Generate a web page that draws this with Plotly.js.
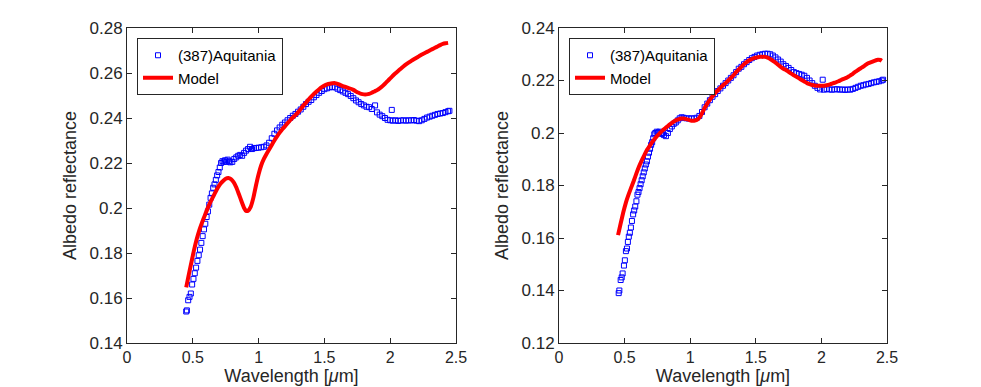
<!DOCTYPE html>
<html>
<head>
<meta charset="utf-8">
<script src="https://cdn.plot.ly/plotly-3.0.1.min.js"></script>
<style>
    html, body { margin: 0; padding: 0; background: #fff; }
    #graph { width: 981px; height: 387px; }
</style>
</head>
<body>
<div id="graph"></div>
<script>
// spectrum of (387) Aquitania, fitted with two models

const leftDataX = [0.450, 0.455, 0.465, 0.475, 0.485, 0.495, 0.505, 0.515, 0.525, 0.535, 0.545, 0.555, 0.565, 0.575, 0.585, 0.595, 0.605, 0.615, 0.625, 0.635, 0.645, 0.655, 0.665, 0.675, 0.685, 0.695, 0.705, 0.715, 0.725, 0.735, 0.745, 0.755, 0.765, 0.775, 0.785, 0.800, 0.815, 0.830, 0.845, 0.860, 0.875, 0.890, 0.905, 0.920, 0.935, 0.950, 0.965, 0.980, 1.00, 1.02, 1.04, 1.06, 1.08, 1.10, 1.12, 1.14, 1.16, 1.18, 1.20, 1.22, 1.24, 1.26, 1.28, 1.30, 1.32, 1.34, 1.36, 1.38, 1.40, 1.42, 1.44, 1.46, 1.48, 1.50, 1.52, 1.54, 1.56, 1.58, 1.60, 1.62, 1.64, 1.66, 1.68, 1.70, 1.72, 1.74, 1.76, 1.78, 1.80, 1.82, 1.84, 1.86, 1.885, 1.90, 1.92, 1.94, 1.96, 1.98, 2.00, 2.012, 2.02, 2.04, 2.06, 2.08, 2.10, 2.12, 2.14, 2.16, 2.18, 2.20, 2.22, 2.24, 2.26, 2.28, 2.30, 2.32, 2.34, 2.36, 2.38, 2.40, 2.42, 2.44, 2.45];
const leftDataY = [0.1540, 0.1545, 0.1590, 0.1605, 0.1620, 0.1660, 0.1685, 0.1710, 0.1735, 0.1765, 0.1790, 0.1815, 0.1845, 0.1875, 0.1905, 0.1930, 0.1960, 0.1985, 0.2015, 0.2045, 0.2065, 0.2090, 0.2105, 0.2125, 0.2145, 0.2160, 0.2180, 0.2200, 0.2208, 0.2206, 0.2212, 0.2205, 0.2215, 0.2208, 0.2203, 0.2205, 0.2218, 0.2225, 0.2232, 0.2236, 0.2232, 0.2245, 0.2255, 0.2262, 0.2272, 0.2262, 0.2266, 0.2267, 0.2268, 0.2270, 0.2272, 0.2278, 0.2290, 0.2310, 0.2330, 0.2345, 0.2358, 0.2370, 0.2380, 0.2390, 0.2400, 0.2410, 0.2418, 0.2428, 0.2438, 0.2450, 0.2462, 0.2472, 0.2480, 0.2492, 0.2502, 0.2512, 0.2520, 0.2528, 0.2532, 0.2536, 0.2538, 0.2536, 0.2530, 0.2524, 0.2518, 0.2512, 0.2506, 0.2498, 0.2488, 0.2478, 0.2470, 0.2462, 0.2456, 0.2450, 0.2448, 0.2440, 0.2456, 0.2425, 0.2415, 0.2408, 0.2400, 0.2392, 0.2390, 0.2436, 0.2388, 0.2390, 0.2387, 0.2389, 0.2390, 0.2388, 0.2390, 0.2389, 0.2391, 0.2388, 0.2386, 0.2390, 0.2396, 0.2402, 0.2406, 0.2410, 0.2414, 0.2418, 0.2420, 0.2422, 0.2426, 0.2430, 0.2432];

const leftModelX = [0.45, 0.47, 0.49, 0.51, 0.53, 0.55, 0.57, 0.59, 0.61, 0.63, 0.65, 0.67, 0.69, 0.71, 0.73, 0.75, 0.77, 0.79, 0.81, 0.83, 0.85, 0.87, 0.89, 0.905, 0.92, 0.94, 0.96, 0.98, 1.00, 1.02, 1.04, 1.06, 1.08, 1.10, 1.12, 1.14, 1.16, 1.18, 1.20, 1.22, 1.24, 1.26, 1.28, 1.30, 1.32, 1.34, 1.36, 1.38, 1.40, 1.42, 1.44, 1.46, 1.48, 1.50, 1.52, 1.54, 1.56, 1.58, 1.60, 1.62, 1.64, 1.66, 1.68, 1.70, 1.72, 1.74, 1.76, 1.78, 1.80, 1.82, 1.84, 1.86, 1.88, 1.90, 1.92, 1.94, 1.96, 1.98, 2.00, 2.02, 2.04, 2.06, 2.08, 2.10, 2.12, 2.14, 2.16, 2.18, 2.20, 2.22, 2.24, 2.26, 2.28, 2.30, 2.32, 2.34, 2.36, 2.38, 2.40, 2.42, 2.44];
const leftModelY = [0.1647, 0.1705, 0.1760, 0.1815, 0.1862, 0.1902, 0.1935, 0.1965, 0.1995, 0.2022, 0.2045, 0.2068, 0.2090, 0.2108, 0.2120, 0.2130, 0.2133, 0.2128, 0.2115, 0.2092, 0.2062, 0.2030, 0.2000, 0.1987, 0.1988, 0.2005, 0.2045, 0.2100, 0.2150, 0.2190, 0.2218, 0.2240, 0.2260, 0.2280, 0.2300, 0.2318, 0.2335, 0.2350, 0.2363, 0.2377, 0.2390, 0.2402, 0.2413, 0.2425, 0.2440, 0.2455, 0.2468, 0.2482, 0.2495, 0.2507, 0.2518, 0.2528, 0.2537, 0.2544, 0.2549, 0.2552, 0.2554, 0.2555, 0.2552, 0.2547, 0.2542, 0.2538, 0.2534, 0.2530, 0.2525, 0.2518, 0.2512, 0.2507, 0.2505, 0.2505, 0.2507, 0.2512, 0.2518, 0.2524, 0.2532, 0.2541, 0.2552, 0.2564, 0.2576, 0.2588, 0.2599, 0.2609, 0.2619, 0.2629, 0.2638, 0.2646, 0.2654, 0.2661, 0.2668, 0.2675, 0.2682, 0.2688, 0.2694, 0.2700, 0.2706, 0.2712, 0.2718, 0.2724, 0.2729, 0.2732, 0.2734];

const rightDataX = [0.455, 0.460, 0.470, 0.478, 0.485, 0.495, 0.502, 0.510, 0.518, 0.525, 0.532, 0.540, 0.548, 0.556, 0.565, 0.573, 0.581, 0.590, 0.598, 0.606, 0.614, 0.622, 0.630, 0.638, 0.646, 0.654, 0.662, 0.670, 0.678, 0.686, 0.694, 0.702, 0.710, 0.718, 0.726, 0.734, 0.745, 0.755, 0.765, 0.775, 0.785, 0.800, 0.815, 0.830, 0.845, 0.860, 0.875, 0.890, 0.905, 0.920, 0.935, 0.950, 0.97, 0.99, 1.01, 1.03, 1.05, 1.07, 1.09, 1.11, 1.13, 1.15, 1.17, 1.19, 1.21, 1.23, 1.25, 1.27, 1.29, 1.31, 1.33, 1.35, 1.37, 1.39, 1.41, 1.43, 1.45, 1.47, 1.49, 1.51, 1.53, 1.55, 1.57, 1.59, 1.61, 1.63, 1.65, 1.67, 1.69, 1.71, 1.73, 1.75, 1.77, 1.79, 1.81, 1.83, 1.85, 1.87, 1.89, 1.91, 1.93, 1.95, 1.97, 1.99, 2.01, 2.02, 2.04, 2.06, 2.08, 2.10, 2.12, 2.14, 2.16, 2.18, 2.20, 2.22, 2.24, 2.26, 2.28, 2.30, 2.32, 2.34, 2.36, 2.38, 2.40, 2.42, 2.44, 2.46, 2.47];
const rightDataY = [0.1390, 0.1400, 0.1440, 0.1450, 0.1465, 0.1495, 0.1515, 0.1550, 0.1560, 0.1585, 0.1605, 0.1620, 0.1640, 0.1665, 0.1690, 0.1705, 0.1720, 0.1740, 0.1765, 0.1775, 0.1790, 0.1805, 0.1820, 0.1835, 0.1850, 0.1865, 0.1880, 0.1892, 0.1910, 0.1925, 0.1940, 0.1955, 0.1965, 0.1980, 0.1995, 0.2000, 0.2005, 0.2002, 0.2005, 0.2000, 0.1996, 0.1992, 0.1988, 0.2000, 0.2015, 0.2025, 0.2035, 0.2040, 0.2048, 0.2056, 0.2060, 0.2058, 0.2056, 0.2055, 0.2056, 0.2055, 0.2058, 0.2065, 0.2080, 0.2098, 0.2112, 0.2125, 0.2138, 0.2148, 0.2160, 0.2170, 0.2180, 0.2190, 0.2200, 0.2210, 0.2220, 0.2232, 0.2245, 0.2252, 0.2262, 0.2270, 0.2278, 0.2285, 0.2290, 0.2295, 0.2298, 0.2300, 0.2302, 0.2302, 0.2300, 0.2295, 0.2288, 0.2280, 0.2272, 0.2262, 0.2255, 0.2248, 0.2240, 0.2232, 0.2228, 0.2225, 0.2222, 0.2218, 0.2210, 0.2200, 0.2190, 0.2180, 0.2172, 0.2166, 0.2203, 0.2165, 0.2168, 0.2166, 0.2165, 0.2166, 0.2167, 0.2165, 0.2166, 0.2164, 0.2166, 0.2165, 0.2168, 0.2172, 0.2176, 0.2180, 0.2182, 0.2185, 0.2187, 0.2190, 0.2193, 0.2195, 0.2197, 0.2200, 0.2203];

const rightModelX = [0.45, 0.47, 0.49, 0.51, 0.53, 0.55, 0.57, 0.59, 0.61, 0.63, 0.65, 0.67, 0.69, 0.71, 0.73, 0.75, 0.77, 0.79, 0.81, 0.83, 0.85, 0.87, 0.89, 0.91, 0.93, 0.95, 0.97, 0.99, 1.01, 1.03, 1.05, 1.07, 1.09, 1.11, 1.13, 1.15, 1.17, 1.19, 1.21, 1.23, 1.25, 1.27, 1.29, 1.31, 1.33, 1.35, 1.37, 1.39, 1.41, 1.43, 1.45, 1.47, 1.49, 1.51, 1.53, 1.55, 1.57, 1.59, 1.61, 1.63, 1.65, 1.67, 1.69, 1.71, 1.73, 1.75, 1.77, 1.79, 1.81, 1.83, 1.85, 1.87, 1.89, 1.91, 1.93, 1.95, 1.97, 1.99, 2.01, 2.03, 2.05, 2.07, 2.09, 2.11, 2.13, 2.15, 2.17, 2.19, 2.21, 2.23, 2.25, 2.27, 2.29, 2.31, 2.33, 2.35, 2.37, 2.39, 2.41, 2.43, 2.45, 2.46];
const rightModelY = [0.1611, 0.1655, 0.1698, 0.1735, 0.1765, 0.1792, 0.1818, 0.1846, 0.1872, 0.1895, 0.1915, 0.1935, 0.1950, 0.1965, 0.1978, 0.1990, 0.2000, 0.2010, 0.2018, 0.2027, 0.2035, 0.2042, 0.2048, 0.2052, 0.2055, 0.2055, 0.2053, 0.2050, 0.2047, 0.2047, 0.2050, 0.2058, 0.2075, 0.2095, 0.2112, 0.2127, 0.2140, 0.2152, 0.2162, 0.2172, 0.2182, 0.2190, 0.2200, 0.2210, 0.2220, 0.2232, 0.2242, 0.2252, 0.2262, 0.2270, 0.2277, 0.2282, 0.2286, 0.2288, 0.2290, 0.2290, 0.2290, 0.2287, 0.2282, 0.2275, 0.2268, 0.2260, 0.2252, 0.2245, 0.2240, 0.2233, 0.2226, 0.2220, 0.2214, 0.2208, 0.2202, 0.2196, 0.2190, 0.2186, 0.2183, 0.2181, 0.2180, 0.2180, 0.2180, 0.2181, 0.2183, 0.2186, 0.2190, 0.2193, 0.2197, 0.2202, 0.2206, 0.2210, 0.2216, 0.2222, 0.2230, 0.2237, 0.2244, 0.2250, 0.2257, 0.2264, 0.2268, 0.2272, 0.2276, 0.2279, 0.2278, 0.2275];

const xTicks = [0, 0.5, 1, 1.5, 2, 2.5];
const xTickText = ['0', '0.5', '1', '1.5', '2', '2.5'];
const leftYTicks = [0.14, 0.16, 0.18, 0.2, 0.22, 0.24, 0.26, 0.28];
const leftYTickText = ['0.14', '0.16', '0.18', '0.2', '0.22', '0.24', '0.26', '0.28'];
const rightYTicks = [0.12, 0.14, 0.16, 0.18, 0.2, 0.22, 0.24];
const rightYTickText = ['0.12', '0.14', '0.16', '0.18', '0.2', '0.22', '0.24'];

const dataName = '(387)Aquitania';
const modelName = 'Model';

const axisColor = '#262626';
const fontFamily = '"Liberation Sans", Arial, Helvetica, sans-serif';

function dataTrace(x, y, xa, ya, legend) {
    return {
        x: x, y: y, xaxis: xa, yaxis: ya, legend: legend,
        name: dataName,
        type: 'scatter',
        mode: 'markers',
        marker: {
            symbol: 'square-open',
            size: 5,
            color: '#0000ff',
            line: { width: 1, color: '#0000ff' }
        }
    };
}

function modelTrace(x, y, xa, ya, legend) {
    return {
        x: x, y: y, xaxis: xa, yaxis: ya, legend: legend,
        name: modelName,
        type: 'scatter',
        mode: 'lines',
        line: { width: 4, color: '#ff0000', shape: 'spline', smoothing: 0.6 }
    };
}

function xAxis(domain, anchor) {
    return {
        domain: domain, anchor: anchor,
        range: [0, 2.5],
        tickvals: xTicks, ticktext: xTickText,
        ticks: 'inside', ticklen: 5, tickcolor: axisColor, tickwidth: 1,
        showline: true, linecolor: axisColor, linewidth: 1, mirror: 'ticks',
        showgrid: false, zeroline: false,
        tickfont: { size: 16, color: axisColor },
        title: { text: 'Wavelength [<i>μ</i>m]', font: { size: 18, color: axisColor }, standoff: 4 },
        automargin: false
    };
}

function yAxis(domain, anchor, range, vals, text) {
    return {
        domain: domain, anchor: anchor,
        range: range,
        tickvals: vals, ticktext: text,
        ticks: 'inside', ticklen: 5, tickcolor: axisColor, tickwidth: 1,
        showline: true, linecolor: axisColor, linewidth: 1, mirror: 'ticks',
        showgrid: false, zeroline: false,
        tickfont: { size: 17, color: axisColor },
        title: { text: 'Albedo reflectance', font: { size: 18, color: axisColor }, standoff: 8 },
        automargin: false
    };
}

function legendBox(x, y) {
    return {
        x: x, y: y, xanchor: 'left', yanchor: 'top',
        bgcolor: '#ffffff',
        bordercolor: axisColor, borderwidth: 1,
        font: { size: 15, color: '#000000' },
        tracegroupgap: 0,
        itemwidth: 30
    };
}

const yDomain = [1 - 343 / 387, 1 - 28 / 387];

const traces = [
    dataTrace(leftDataX, leftDataY, 'x', 'y', 'legend'),
    modelTrace(leftModelX, leftModelY, 'x', 'y', 'legend'),
    dataTrace(rightDataX, rightDataY, 'x2', 'y2', 'legend2'),
    modelTrace(rightModelX, rightModelY, 'x2', 'y2', 'legend2')
];

const layout = {
    width: 981,
    height: 387,
    margin: { l: 0, r: 0, t: 0, b: 0 },
    paper_bgcolor: '#ffffff',
    plot_bgcolor: '#ffffff',
    font: { family: fontFamily, color: axisColor },
    showlegend: true,
    xaxis: xAxis([127 / 981, 456 / 981], 'y'),
    yaxis: yAxis(yDomain, 'x', [0.14, 0.28], leftYTicks, leftYTickText),
    xaxis2: xAxis([559 / 981, 887 / 981], 'y2'),
    yaxis2: yAxis(yDomain, 'x2', [0.12, 0.24], rightYTicks, rightYTickText),
    legend: legendBox(137 / 981, 1 - 38 / 387),
    legend2: legendBox(569 / 981, 1 - 38 / 387)
};

Plotly.newPlot(document.getElementById('graph'), traces, layout, {
    displayModeBar: false,
    staticPlot: true
});
</script>
</body>
</html>
